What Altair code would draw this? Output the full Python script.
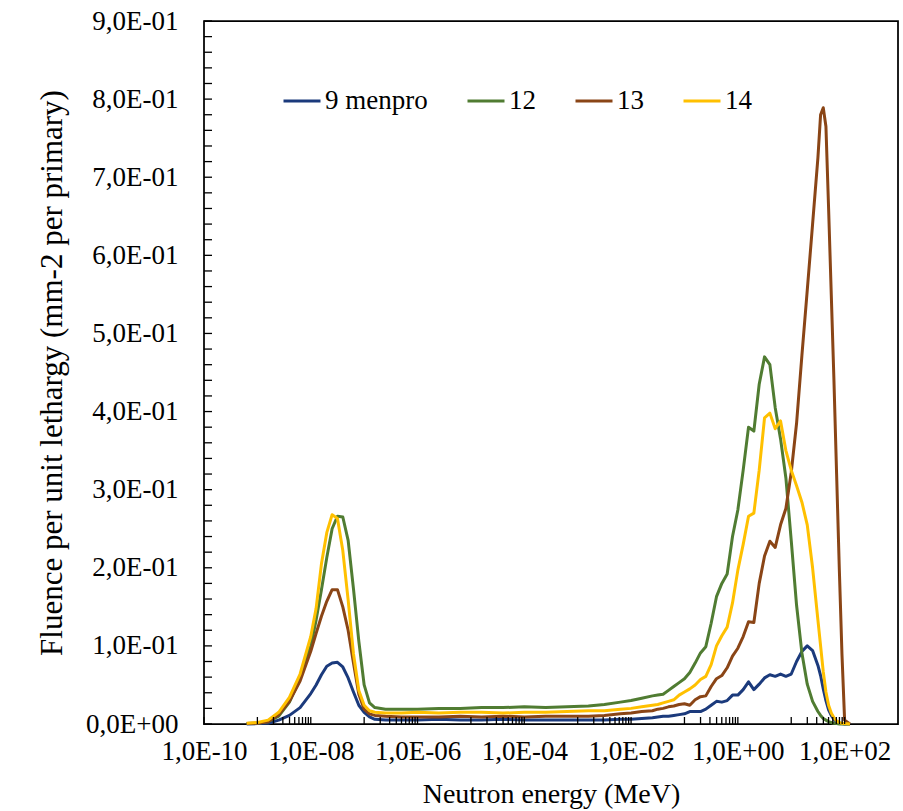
import altair as alt
import pandas as pd

# Neutron energy grid (MeV)
energy_mev = [
    6.31e-10, 1.0e-9, 1.585e-9, 2.512e-9, 3.981e-9, 6.31e-9, 1.0e-8, 1.259e-8, 1.585e-8, 1.995e-8,
    2.512e-8, 3.162e-8, 3.981e-8, 5.012e-8, 6.31e-8, 7.943e-8, 1.0e-7, 1.259e-7, 1.585e-7, 2.512e-7,
    5.012e-7, 1.0e-6, 2.512e-6, 6.31e-6, 1.585e-5, 3.981e-5, 1.0e-4, 2.512e-4, 6.31e-4, 1.585e-3,
    3.162e-3, 6.31e-3, 1.0e-2, 1.585e-2, 2.512e-2, 3.162e-2, 3.981e-2, 5.012e-2,
    6.31e-2, 7.943e-2, 0.1, 0.1259, 0.1585, 0.1995, 0.2512, 0.3162, 0.3981, 0.5012, 0.631, 0.7943,
    1.0, 1.259, 1.585, 1.995, 2.512, 3.162, 3.981, 5.012, 6.31, 7.943,
    10.0, 12.59, 15.85, 19.95, 25.12, 31.62,
    35.48, 39.81, 44.67, 50.12, 56.23, 63.1, 70.79, 79.43, 89.13, 100.0, 125.9,
]

fluence_9 = [
    0.0, 0.0005, 0.001, 0.005, 0.011, 0.021, 0.039, 0.050, 0.063, 0.074,
    0.078, 0.079, 0.073, 0.059, 0.041, 0.024, 0.015, 0.009, 0.006, 0.005,
    0.005, 0.005, 0.006, 0.005, 0.005, 0.006, 0.005, 0.005, 0.005, 0.005,
    0.005, 0.006, 0.006, 0.007, 0.008, 0.009, 0.010, 0.010,
    0.011, 0.012, 0.013, 0.016, 0.016, 0.016, 0.019, 0.024, 0.029, 0.028, 0.030, 0.037,
    0.037, 0.044, 0.054, 0.044, 0.051, 0.059, 0.063, 0.061, 0.064, 0.061,
    0.064, 0.080, 0.093, 0.100, 0.094, 0.075,
    0.062, 0.045, 0.030, 0.018, 0.011, 0.006, 0.003, 0.001, 0.0005, 0.0, 0.0,
]

fluence_12 = [
    0.0005, 0.001, 0.003, 0.010, 0.028, 0.058, 0.100, 0.133, 0.172, 0.213,
    0.250, 0.266, 0.265, 0.235, 0.173, 0.106, 0.050, 0.027, 0.021, 0.019,
    0.019, 0.019, 0.020, 0.020, 0.021, 0.021, 0.022, 0.021, 0.022, 0.023,
    0.025, 0.028, 0.030, 0.033, 0.036, 0.037, 0.038, 0.043,
    0.048, 0.053, 0.058, 0.066, 0.078, 0.091, 0.099, 0.129, 0.163, 0.180, 0.192, 0.240,
    0.274, 0.325, 0.380, 0.375, 0.435, 0.470, 0.460, 0.405, 0.365, 0.315,
    0.235, 0.152, 0.091, 0.051, 0.029, 0.016,
    0.011, 0.007, 0.005, 0.003, 0.002, 0.001, 0.0005, 0.0, 0.0, 0.0, 0.0,
]

fluence_13 = [
    0.0005, 0.001, 0.003, 0.012, 0.029, 0.055, 0.093, 0.116, 0.138, 0.157,
    0.172, 0.172, 0.150, 0.120, 0.078, 0.038, 0.019, 0.013, 0.011, 0.010,
    0.009, 0.009, 0.009, 0.010, 0.009, 0.010, 0.009, 0.010, 0.010, 0.010,
    0.011, 0.013, 0.014, 0.016, 0.017, 0.019, 0.020, 0.022,
    0.023, 0.025, 0.026, 0.024, 0.031, 0.035, 0.036, 0.048, 0.058, 0.062, 0.072, 0.087,
    0.097, 0.112, 0.131, 0.130, 0.180, 0.215, 0.234, 0.226, 0.255, 0.276,
    0.322, 0.385, 0.472, 0.555, 0.640, 0.725,
    0.780, 0.789, 0.765, 0.660, 0.550, 0.440, 0.320, 0.200, 0.090, 0.005, 0.0,
]

fluence_14 = [
    0.001, 0.002, 0.005, 0.015, 0.034, 0.064, 0.112, 0.148, 0.205, 0.245,
    0.268, 0.263, 0.222, 0.159, 0.090, 0.043, 0.024, 0.017, 0.015, 0.014,
    0.014, 0.015, 0.014, 0.015, 0.015, 0.014, 0.015, 0.015, 0.016, 0.017,
    0.017, 0.019, 0.020, 0.022, 0.024, 0.025, 0.027, 0.029,
    0.031, 0.037, 0.041, 0.045, 0.050, 0.057, 0.061, 0.076, 0.100, 0.113, 0.124, 0.155,
    0.197, 0.230, 0.266, 0.270, 0.325, 0.392, 0.398, 0.378, 0.388, 0.350,
    0.325, 0.305, 0.284, 0.255, 0.200, 0.133,
    0.100, 0.067, 0.041, 0.024, 0.014, 0.008, 0.004, 0.002, 0.001, 0.0005, 0.0,
]

series_names = ["9 menpro", "12", "13", "14"]
series_colors = ["#1B3A7C", "#507C32", "#8A4516", "#FFC000"]

x_label_values = [1e-10, 1e-8, 1e-6, 1e-4, 1e-2, 1e0, 1e2]
x_minor_decades = [-9, -7, -5, -3, -1, 1]
x_minor_multipliers = [1, 2, 3, 4, 5, 6, 7, 8, 9]
y_label_values = [0.0, 0.1, 0.2, 0.3, 0.4, 0.5, 0.6, 0.7, 0.8, 0.9]
y_minor_step = 0.02

x_tick_values = x_label_values + [m * 10.0 ** d for d in x_minor_decades for m in x_minor_multipliers]
y_tick_values = [round(i * y_minor_step, 2) for i in range(46)]

rows = []
for name, vals in zip(series_names, [fluence_9, fluence_12, fluence_13, fluence_14]):
    for e, v in zip(energy_mev, vals):
        rows.append({"series": name, "energy": e, "fluence": v})
df = pd.DataFrame(rows)

FONT = "Liberation Serif"
W, H = 694, 703

x_scale = alt.Scale(type="log", domain=[1e-10, 1e3], nice=False)
y_scale = alt.Scale(domain=[0, 0.9], nice=False, zero=False)

x_label_expr = (
    "'1,0E' + (round(log(datum.value)/LN10) < 0 ? '-' : '+') + "
    "(abs(round(log(datum.value)/LN10)) < 10 ? '0' : '') + abs(round(log(datum.value)/LN10))"
)
y_label_expr = (
    "datum.value == 0 ? '0,0E+00' : "
    "replace(format(datum.value * 10, '.1f'), '.', ',') + 'E-01'"
)

x_axis = alt.Axis(
    values=x_label_values,
    labelExpr=x_label_expr,
    ticks=False,
    domain=False,
    grid=False,
    labelFlush=False,
    labelOverlap=False,
    labelFont=FONT,
    labelFontSize=27,
    labelColor="black",
    labelPadding=14,
    title="Neutron energy (MeV)",
    titleFont=FONT,
    titleFontSize=28,
    titleFontWeight="normal",
    titleColor="black",
    titlePadding=16,
)

y_axis = alt.Axis(
    values=y_label_values,
    labelExpr=y_label_expr,
    ticks=False,
    domain=False,
    grid=False,
    labelOverlap=False,
    labelFont=FONT,
    labelFontSize=27,
    labelColor="black",
    labelPadding=26,
    title="Fluence per unit lethargy (mm-2 per primary)",
    titleFont=FONT,
    titleFontSize=31,
    titleFontWeight="normal",
    titleColor="black",
    titlePadding=17,
)

lines = alt.Chart(df).mark_line(strokeWidth=3, strokeJoin="round").encode(
    x=alt.X("energy:Q", scale=x_scale, axis=x_axis),
    y=alt.Y("fluence:Q", scale=y_scale, axis=y_axis),
    color=alt.Color(
        "series:N",
        scale=alt.Scale(domain=series_names, range=series_colors),
        legend=alt.Legend(
            title=None,
            orient="none",
            legendX=78,
            legendY=60,
            direction="horizontal",
            columns=4,
            symbolType="stroke",
            symbolSize=1369,
            symbolStrokeWidth=3,
            labelFont=FONT,
            labelFontSize=27,
            labelColor="black",
            labelOffset=3,
            columnPadding=33,
            labelLimit=0,
        ),
    ),
)

x_ticks = alt.Chart(pd.DataFrame({"energy": x_tick_values})).mark_rule(
    color="black", strokeWidth=1.3
).encode(
    x=alt.X("energy:Q", scale=x_scale, axis=x_axis),
    y=alt.value(H),
    y2=alt.value(H - 7),
)

y_ticks = alt.Chart(pd.DataFrame({"fluence": y_tick_values})).mark_rule(
    color="black", strokeWidth=1.3
).encode(
    y=alt.Y("fluence:Q", scale=y_scale, axis=y_axis),
    x=alt.value(0),
    x2=alt.value(8),
)

chart = alt.layer(lines, x_ticks, y_ticks).properties(
    width=W,
    height=H,
    autosize=alt.AutoSizeParams(type="none"),
    padding={"left": 204, "top": 21, "right": 5, "bottom": 87},
    background="white",
).configure_view(stroke="black", strokeWidth=1.75)

chart.save("out.html", embed_options={"renderer": "svg", "actions": False})
